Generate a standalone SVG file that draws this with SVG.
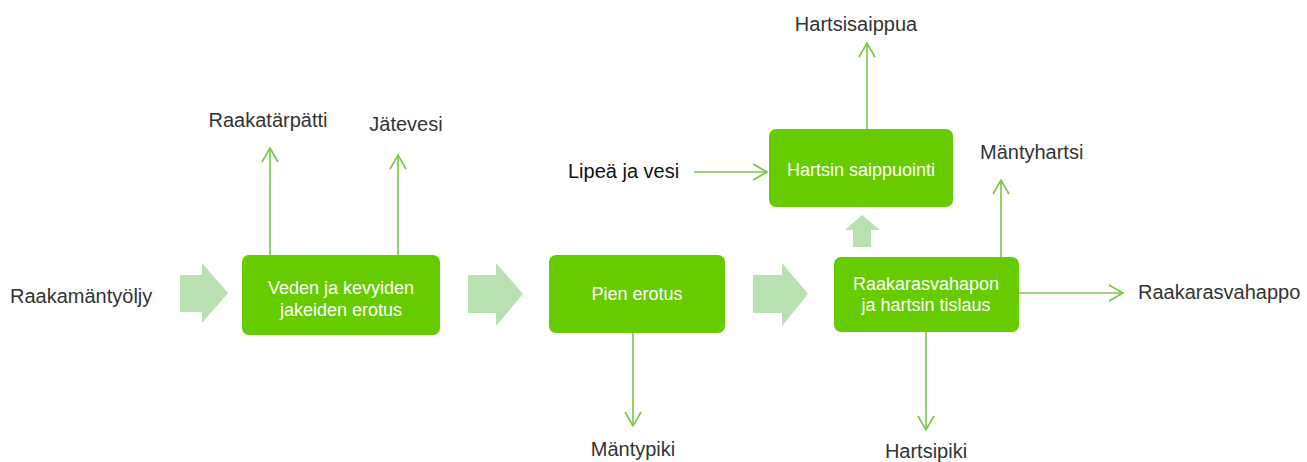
<svg xmlns="http://www.w3.org/2000/svg" width="1307" height="462" viewBox="0 0 1307 462">
<style>
.box{fill:#66cc00}
.bt{font-family:"Liberation Sans",Arial,sans-serif;font-size:18px;fill:#ffffff;text-anchor:middle}
.lb{font-family:"Liberation Sans",Arial,sans-serif;font-size:20px;fill:#333333}
.ln{stroke:#78c646;stroke-width:1.6;fill:none}
.blk{fill:#b9e0b0}
</style>
<defs>
<marker id="ch" markerUnits="userSpaceOnUse" markerWidth="18" markerHeight="20" refX="15" refY="9" orient="auto" viewBox="0 0 18 18">
<path d="M1,1 L15,9 L1,17" fill="none" stroke="#78c646" stroke-width="1.6"/>
</marker>
</defs>
<rect width="1307" height="462" fill="#ffffff"/>
<g id="connectors">
<polygon class="blk" points="180,275 202,275 202,263 228,293 202,323 202,312 180,312"/>
<polygon class="blk" points="468,275 496,275 496,263 523,294 496,326 496,313 468,313"/>
<polygon class="blk" points="753,275 782,275 782,263 808,294 782,326 782,313 753,313"/>
<polygon class="blk" points="853,247 853,230 845,230 862,215 880,230 871,230 871,247"/>
<line class="ln" x1="270" y1="255" x2="270" y2="148" marker-end="url(#ch)"/>
<line class="ln" x1="398" y1="255" x2="398" y2="155" marker-end="url(#ch)"/>
<line class="ln" x1="633" y1="333" x2="633" y2="426" marker-end="url(#ch)"/>
<line class="ln" x1="926" y1="332" x2="926" y2="430" marker-end="url(#ch)"/>
<line class="ln" x1="1001" y1="257" x2="1001" y2="180" marker-end="url(#ch)"/>
<line class="ln" x1="1018" y1="293" x2="1123" y2="293" marker-end="url(#ch)"/>
<line class="ln" x1="867" y1="129" x2="867" y2="43" marker-end="url(#ch)"/>
<line class="ln" x1="694" y1="172" x2="767" y2="172" marker-end="url(#ch)"/>
</g>
<g id="n1">
<rect class="box" x="242" y="255" width="198" height="80" rx="7"/>
<text class="bt" x="341" y="294">Veden ja kevyiden</text>
<text class="bt" x="341" y="316">jakeiden erotus</text>
</g>
<g id="n2">
<rect class="box" x="549" y="255" width="176" height="78" rx="7"/>
<text class="bt" x="637" y="300">Pien erotus</text>
</g>
<g id="n3">
<rect class="box" x="834" y="257" width="185" height="75" rx="7"/>
<text class="bt" x="926" y="290">Raakarasvahapon</text>
<text class="bt" x="926" y="311">ja hartsin tislaus</text>
</g>
<g id="n4">
<rect class="box" x="769" y="129" width="184" height="78" rx="7"/>
<text class="bt" x="861" y="176">Hartsin saippuointi</text>
</g>
<g id="labels">
<text class="lb" x="10" y="303">Raakamäntyöljy</text>
<text class="lb" x="268" y="127" text-anchor="middle">Raakatärpätti</text>
<text class="lb" x="406" y="131" text-anchor="middle">Jätevesi</text>
<text class="lb" x="856" y="31" text-anchor="middle">Hartsisaippua</text>
<text class="lb" x="568" y="178" style="fill:#111111">Lipeä ja vesi</text>
<text class="lb" x="980" y="159">Mäntyhartsi</text>
<text class="lb" x="1138" y="299">Raakarasvahappo</text>
<text class="lb" x="633" y="456" text-anchor="middle">Mäntypiki</text>
<text class="lb" x="926" y="458" text-anchor="middle">Hartsipiki</text>
</g>
</svg>
